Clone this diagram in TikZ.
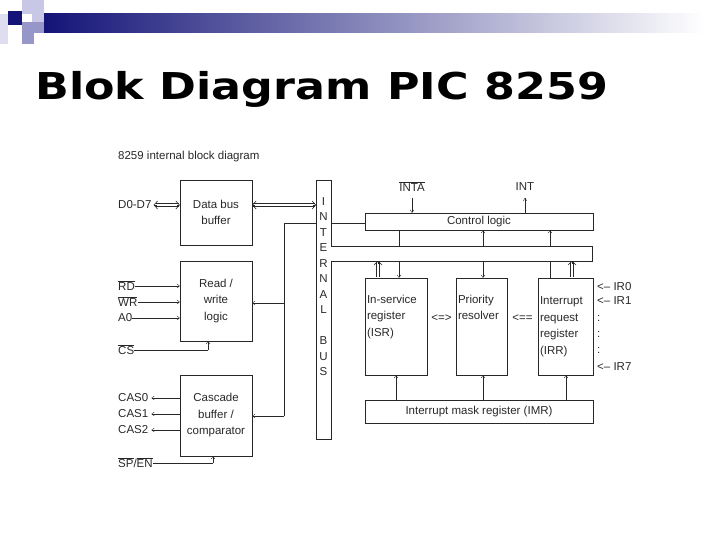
\documentclass[tikz,border=0pt]{standalone}
\usepackage{fontspec}
\setmainfont{Liberation Sans}
\newfontfamily\titlefont{DejaVu Sans}
\usetikzlibrary{arrows.meta,calc}
\definecolor{slideblue}{RGB}{20,20,120}
\definecolor{slidelight}{RGB}{200,200,230}
\definecolor{slidemid}{RGB}{150,150,200}
\definecolor{inkgray}{RGB}{40,40,40}

\tikzset{
  blk/.style={draw=inkgray, thin, inner sep=0pt, font=\fontsize{11.5}{16.5}\selectfont, text=inkgray, align=center},
  lbl/.style={inner sep=0pt, anchor=west, font=\fontsize{11.5}{14}\selectfont, text=inkgray},
  sig/.style={inkgray, thin, -{To[length=3pt,width=4pt]}},
  rail/.style={inkgray, line width=0.6pt},
  barb/.style={inkgray, line width=0.6pt, -{Straight Barb[length=3.5pt,width=8pt]}},
}

\begin{document}
\begin{tikzpicture}[x=1pt, y=-1pt]
      \useasboundingbox (0,0) rectangle (720,540);
      % Header decoration
      \shade[left color=slideblue, right color=white] (44,14) rectangle (705,33);
      \fill[slideblue] (8,11) rectangle (22,25);
      \fill[slidelight] (22,0) rectangle (44,14);
      \fill[slidelight] (32,14) rectangle (44,22);
      \fill[slidemid] (22,22) rectangle (44,33);
      \fill[slidemid] (22,33) rectangle (34,44);
      \fill[slidelight!60] (0,14) rectangle (8,44);
      \node[inner sep=0pt, anchor=base west, xscale=1.2, font=\fontsize{37}{40}\selectfont\titlefont\bfseries] (title) at (35,100) {Blok Diagram PIC 8259};
      \node[lbl] (caption) at (118,157) {8259 internal block diagram};

      % Left blocks
      \node[blk, minimum width=72pt, minimum height=65pt] (dbb) at (216,212.5) {Data bus\\buffer};
      \node[blk, minimum width=72pt, minimum height=80pt] (rwl) at (216,301) {Read /\\write\\logic};
      \node[blk, minimum width=72pt, minimum height=81pt] (cas) at (216,415.5) {Cascade\\buffer /\\comparator};

      % Internal bus with branch
      \draw[inkgray, thin] (316,180) -- (331,180) -- (331,246) -- (592,246) -- (592,261) -- (331,261) -- (331,439) -- (316,439) -- cycle;
      \foreach \ch [count=\i] in {I,N,T,E,R,N,A,L,{},B,U,S}
        \node[lbl, anchor=center] (bus\i) at (323.5,186+15.5*\i) {\ch};

      % Right blocks
      \node[blk, minimum width=228pt, minimum height=17pt] (ctl) at (479,221.5) {Control logic};
      \node[blk, minimum width=62pt, minimum height=97pt, align=left, text width=58pt] (isr) at (396,326.5) {In-service\\register\\(ISR)\\\strut};
      \node[blk, minimum width=51pt, minimum height=97pt, align=left, text width=47pt] (pr) at (481.5,326.5) {Priority\\resolver\\\strut\\\strut};
      \node[blk, minimum width=55pt, minimum height=97pt, align=left, text width=51pt] (irr) at (565.5,326.5) {Interrupt\\request\\register\\(IRR)};
      \node[blk, minimum width=228pt, minimum height=23pt] (imr) at (479,411.5) {Interrupt mask register (IMR)};

      % Bus coordinates
      \coordinate (busw) at (316,205);
      \coordinate (bustop) at (378,261);
      \coordinate (bustopr) at (572,261);

      % Data bus (double arrows)
      \node[lbl] (d07) at (118,205) {D0-D7};
      \foreach \dy in {-1.3,1.3} {
        \draw[rail] ($(d07.east)+(4,\dy)$) -- ($(dbb.west|-d07.east)+(-1,\dy)$);
        \draw[rail] ($(dbb.east|-d07.east)+(1,\dy)$) -- ($(busw)+(-1,\dy)$);
        \draw[rail] ($(isr.north-|bustop)+(\dy,-1)$) -- ($(bustop)+(\dy,1)$);
        \draw[rail] ($(irr.north-|bustopr)+(\dy,-1)$) -- ($(bustopr)+(\dy,1)$);
      }
      \draw[barb] ($(d07.east)+(5,0)$) -- ($(d07.east)+(2,0)$);
      \draw[barb] ($(dbb.west|-d07.east)+(-3,0)$) -- (dbb.west|-d07.east);
      \draw[barb] ($(dbb.east|-d07.east)+(3,0)$) -- (dbb.east|-d07.east);
      \draw[barb] ($(busw)+(-3,0)$) -- (busw);
      \draw[barb] ($(bustop)+(0,3)$) -- (bustop);
      \draw[barb] ($(bustopr)+(0,3)$) -- (bustopr);

      % Bus feed to left blocks and control logic
      \draw[inkgray, thin] (284,416) -- (284,223) -- (316,223);
      \draw[inkgray, thin] (331,223) -- (ctl.west |- 0,223);
      \draw[sig] (284,303) -- (rwl.east |- 0,303);
      \draw[sig] (284,416) -- (cas.east |- 0,416);

      % Read/write inputs
      \node[lbl] (rd) at (118,286) {$\overline{\mbox{RD}}$};
      \node[lbl] (wr) at (118,302) {$\overline{\mbox{WR}}$};
      \node[lbl] (a0) at (118,318) {A0};
      \node[lbl] (cs) at (118,350) {$\overline{\mbox{CS}}$};
      \foreach \n in {rd,wr,a0}
        \draw[sig] (\n.east) -- (rwl.west |- \n.east);
      \draw[inkgray, thin] (cs.east) -- (208,350);
      \draw[sig] (208,350) -- (rwl.south -| 208,0);

      % Cascade outputs
      \node[lbl] (cas0) at (118,398) {CAS0};
      \node[lbl] (cas1) at (118,414) {CAS1};
      \node[lbl] (cas2) at (118,430) {CAS2};
      \node[lbl] (spen) at (118,463) {$\overline{\mbox{SP}}$/$\overline{\mbox{EN}}$};
      \foreach \n in {cas0,cas1,cas2}
        \draw[sig] (cas.west |- \n.east) -- ([xshift=3pt]\n.east);
      \draw[inkgray, thin] (spen.east) -- (213,463);
      \draw[sig] (213,463) -- (cas.south -| 213,0);

      % Control logic signals
      \node[lbl, anchor=center] (inta) at (412,187) {$\overline{\mbox{INTA}}$};
      \node[lbl, anchor=center] (int) at (525,187) {INT};
      \draw[sig] (412,198) -- (ctl.north -| 412,0);
      \draw[sig] (ctl.north -| 525,0) -- (525,198);
      \draw[inkgray, thin] (ctl.south -| 399,0) -- (399,246);
      \draw[sig] (483,246) -- (ctl.south -| 483,0);
      \draw[sig] (550,246) -- (ctl.south -| 550,0);

      % Registers to bus
      \draw[sig] (399,261) -- (isr.north -| 399,0);
      \draw[sig] (483,261) -- (pr.north -| 483,0);
      \draw[inkgray, thin] (irr.north -| 550,0) -- (550,261);

      % Between registers
      \node[lbl, anchor=center] (isrpr) at (441.5,318) {<=>};
      \node[lbl, anchor=center] (prirr) at (522.5,318) {<==};

      % Interrupt request inputs
      \node[lbl] (ir0) at (597,287) {<– IR0};
      \node[lbl] (ir1) at (597,301) {<– IR1};
      \foreach \y in {318,334,350}
        \node[lbl] at (597,\y) {:};
      \node[lbl] (ir7) at (597,367) {<– IR7};

      % Mask register
      \draw[sig] (imr.north -| 396,0) -- (isr.south -| 396,0);
      \draw[sig] (imr.north -| 483,0) -- (pr.south -| 483,0);
      \draw[sig] (imr.north -| 566,0) -- (irr.south -| 566,0);
\end{tikzpicture}
\end{document}
